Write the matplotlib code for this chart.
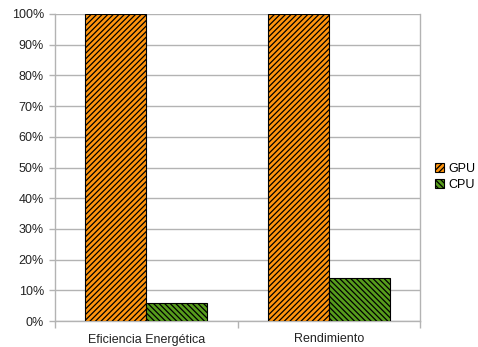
import numpy as np
import matplotlib
matplotlib.use('Agg')
from matplotlib import pyplot as plt

categories = ['Eficiencia Energética', 'Rendimiento']
gpu = [100, 100]
cpu = [6, 14]
series_names = ['GPU', 'CPU']
yticks = [0, 10, 20, 30, 40, 50, 60, 70, 80, 90, 100]

plt.rcParams['font.family'] = ['Liberation Sans', 'DejaVu Sans']
plt.rcParams['hatch.linewidth'] = 0.9

fig = plt.figure(figsize=(4.78, 3.47), dpi=100)
ax = fig.add_axes([55 / 478, 26 / 347, 365 / 478, 307 / 347])

x = np.arange(len(categories))
w = 1 / 3
ax.bar(x - w / 2, gpu, w, color='#ff950e', edgecolor='black', linewidth=0.8,
       hatch='//////', label=series_names[0], zorder=3)
ax.bar(x + w / 2, cpu, w, color='#579d1c', edgecolor='black', linewidth=0.8,
       hatch='\\' * 6, label=series_names[1], zorder=3)

ax.set_xlim(-0.5, len(categories) - 0.5)
ax.set_ylim(0, 100)
ax.set_yticks(yticks)
ax.set_yticklabels([f'{v}%' for v in yticks])
ax.set_xticks(x)
ax.set_xticklabels(categories)
ax.set_xticks(np.arange(len(categories) + 1) - 0.5, minor=True)
ax.tick_params(axis='x', which='major', length=0, pad=9)
ax.tick_params(axis='x', which='minor', length=5, color='#b3b3b3', width=1)
ax.tick_params(axis='y', length=4, color='#b3b3b3', width=1, pad=4)
ax.tick_params(labelsize=9, labelcolor='#222222')

ax.grid(axis='y', color='#b3b3b3', linewidth=1, zorder=0)
ax.set_axisbelow(True)
ax.spines['top'].set_visible(False)
for s in ['left', 'bottom', 'right']:
    ax.spines[s].set_color('#b3b3b3')
    ax.spines[s].set_linewidth(1)

fig.legend(loc='center left', bbox_to_anchor=(435 / 478, 1 - 177 / 347),
           frameon=False, fontsize=9, handlelength=0.75, handleheight=0.75,
           handletextpad=0.3, labelspacing=0.3, borderaxespad=0, borderpad=0)

plt.savefig('out.png', dpi=100)
